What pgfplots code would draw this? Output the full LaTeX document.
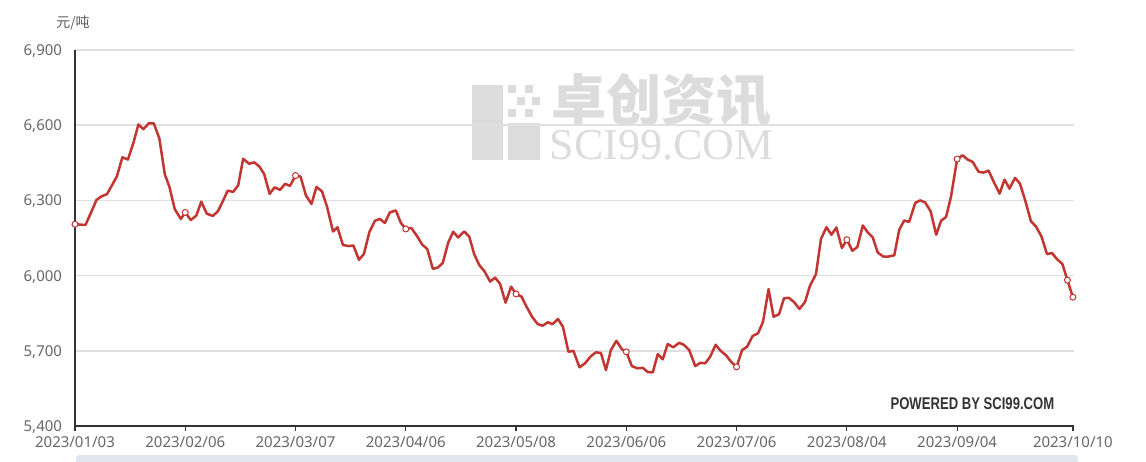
\documentclass[border=0pt]{standalone}
\usepackage{pgfplots}
\pgfplotsset{compat=1.18}
\usepackage{graphicx}
\usepackage{fontspec}
\setmainfont{Noto Sans}
\newfontfamily\cjk{Noto Sans CJK SC}
\newfontfamily\wmserif{Liberation Serif}
\newfontfamily\pwr{Liberation Sans}
\definecolor{linered}{HTML}{C23531}
\definecolor{wm}{HTML}{DCDCDC}
\definecolor{gridc}{HTML}{E0E0E0}
\definecolor{lab}{HTML}{666666}
\definecolor{axc}{HTML}{333333}
\definecolor{scroll}{HTML}{E2E7EF}
\pgfplotstableread{
x y
0 6205
1.9 6202
3.0 6256
3.9 6302
4.8 6316
5.8 6325
6.7 6360
7.6 6396
8.6 6472
9.6 6463
10.6 6530
11.5 6603
12.4 6584
13.4 6608
14.3 6607
15.3 6547
16.3 6403
17.1 6356
18.1 6265
19.2 6226
20 6252
21.0 6222
22.0 6239
22.9 6295
23.9 6247
25.0 6238
25.9 6256
26.8 6296
27.7 6339
28.7 6334
29.6 6360
30.5 6466
31.6 6446
32.5 6452
33.4 6436
34.3 6406
35.3 6326
36.2 6352
37.2 6342
38.1 6366
39.0 6358
40 6399
40.9 6395
41.9 6319
42.9 6286
43.8 6354
44.8 6336
45.7 6276
46.8 6176
47.6 6193
48.6 6122
49.6 6118
50.5 6120
51.5 6063
52.4 6086
53.4 6174
54.4 6219
55.3 6226
56.2 6210
57.1 6252
58.2 6260
59.1 6210
60 6186
61.0 6190
62.0 6159
63.0 6123
63.9 6106
64.9 6027
65.8 6032
66.7 6050
67.7 6132
68.6 6175
69.5 6152
70.6 6176
71.5 6156
72.4 6086
73.3 6043
74.3 6016
75.3 5976
76.2 5992
77.1 5967
78.1 5892
79.1 5956
80 5927
81.0 5916
81.9 5876
82.9 5836
83.9 5807
84.8 5800
85.8 5814
86.6 5806
87.6 5827
88.5 5796
89.5 5696
90.4 5700
91.5 5634
92.5 5650
93.6 5679
94.5 5694
95.4 5691
96.3 5623
97.2 5703
98.2 5740
99.2 5706
100 5696
101.0 5639
102.0 5630
103.0 5632
103.9 5615
104.8 5614
105.7 5687
106.6 5666
107.5 5727
108.5 5714
109.6 5732
110.5 5723
111.4 5703
112.5 5639
113.4 5652
114.3 5650
115.2 5676
116.2 5724
117.1 5700
118.1 5682
119.0 5656
120 5636
121.0 5703
121.9 5716
122.9 5759
123.9 5770
124.8 5816
125.8 5946
126.7 5836
127.7 5846
128.6 5910
129.5 5911
130.4 5895
131.4 5867
132.4 5894
133.3 5959
134.4 6006
135.3 6146
136.3 6193
137.2 6163
138.1 6192
139.1 6110
140 6143
141.0 6099
141.9 6114
142.9 6200
143.8 6172
144.7 6152
145.6 6092
146.6 6076
147.5 6076
148.6 6081
149.5 6183
150.4 6220
151.3 6214
152.4 6290
153.3 6300
154.2 6292
155.2 6256
156.2 6163
157.1 6219
158.0 6234
158.9 6316
160 6465
161.0 6480
161.9 6463
162.8 6454
163.9 6414
164.8 6411
165.7 6419
166.6 6376
167.7 6327
168.6 6383
169.5 6347
170.5 6390
171.4 6367
172.4 6296
173.4 6216
174.3 6196
175.3 6156
176.3 6086
177.2 6090
178.1 6066
179.1 6046
180 5982
181 5914
}\pricedata
\pgfplotstableread{
x y
0 6205
20 6252
40 6399
60 6186
80 5927
100 5696
120 5636
140 6143
160 6465
180 5982
181 5914
}\markdata
\begin{document}
\begin{tikzpicture}
% watermark
\fill[wm] (198.4pt,133pt) rectangle (214pt,170.5pt);
\fill[wm] (216.7pt,133pt) rectangle (232.5pt,151.3pt);
\fill[wm] (216.7pt,166.5pt) rectangle (220.7pt,170.5pt);
\fill[wm] (225pt,166.5pt) rectangle (229pt,170.5pt);
\fill[wm] (221pt,160.5pt) rectangle (225pt,164.5pt);
\fill[wm] (228.5pt,160.5pt) rectangle (232.5pt,164.5pt);
\fill[wm] (216.7pt,154.5pt) rectangle (220.7pt,158.5pt);
\fill[wm] (225pt,154.5pt) rectangle (229pt,158.5pt);
\node[text=wm, anchor=base, font=\cjk\bfseries\fontsize{27.5}{30}\selectfont, inner sep=0pt] at (293.25pt,152.5pt) {卓创资讯};
\node[text=wm, anchor=base, font=\wmserif\fontsize{22}{24}\selectfont, inner sep=0pt] at (293.25pt,133pt) {SCI99.COM};
\begin{axis}[
  at={(0pt,0pt)}, anchor=south west,
  scale only axis, width=499.5pt, height=188pt,
  xmin=0, xmax=181.2, ymin=5400, ymax=6900,
  axis x line=bottom, axis y line=left,
  axis line style={-, draw=axc, line width=0.6pt},
  xtick={0,20,40,60,80,100,120,140,160,181},
  xticklabels={2023/01/03,2023/02/06,2023/03/07,2023/04/06,2023/05/08,2023/06/06,2023/07/06,2023/08/04,2023/09/04,2023/10/10},
  ytick={5400,5700,6000,6300,6600,6900},
  yticklabels={{5,400},{5,700},{6,000},{6,300},{6,600},{6,900}},
  tick align=outside, major tick length=2.5pt,
  xtick style={draw=axc, line width=0.6pt},
  ytick style={draw=none},
  ymajorgrids, grid style={draw=gridc, line width=0.75pt},
  ticklabel style={font=\fontsize{7.5}{9}\selectfont, text=lab},
  xticklabel style={anchor=base, yshift=-8.2pt},
  yticklabel style={anchor=base east, inner sep=0pt, xshift=-3.8pt, yshift=-2.7pt},
  clip=false,
]
\addplot[linered, line width=1.25pt, line join=round] table[x=x,y=y] {\pricedata};
\addplot[only marks, mark=*, mark size=1.5pt, mark options={fill=white, draw=linered, line width=0.5pt}] table[x=x,y=y] {\markdata};
\end{axis}
\node[text=axc!80!white, font=\cjk\fontsize{7}{8}\selectfont] at (-1pt,201.5pt) {元/吨};
\node[text=axc, font=\pwr\bfseries\fontsize{8.5}{10}\selectfont] at (448.7pt,11pt) {\scalebox{0.77}[1]{POWERED BY SCI99.COM}};
\fill[scroll, rounded corners=1.5pt] (0.5pt,-14.5pt) rectangle (501.5pt,-22pt);
\pgfresetboundingbox
\path[use as bounding box] (-37.5pt,-17.5pt) rectangle (535.5pt,213pt);
\end{tikzpicture}
\end{document}
